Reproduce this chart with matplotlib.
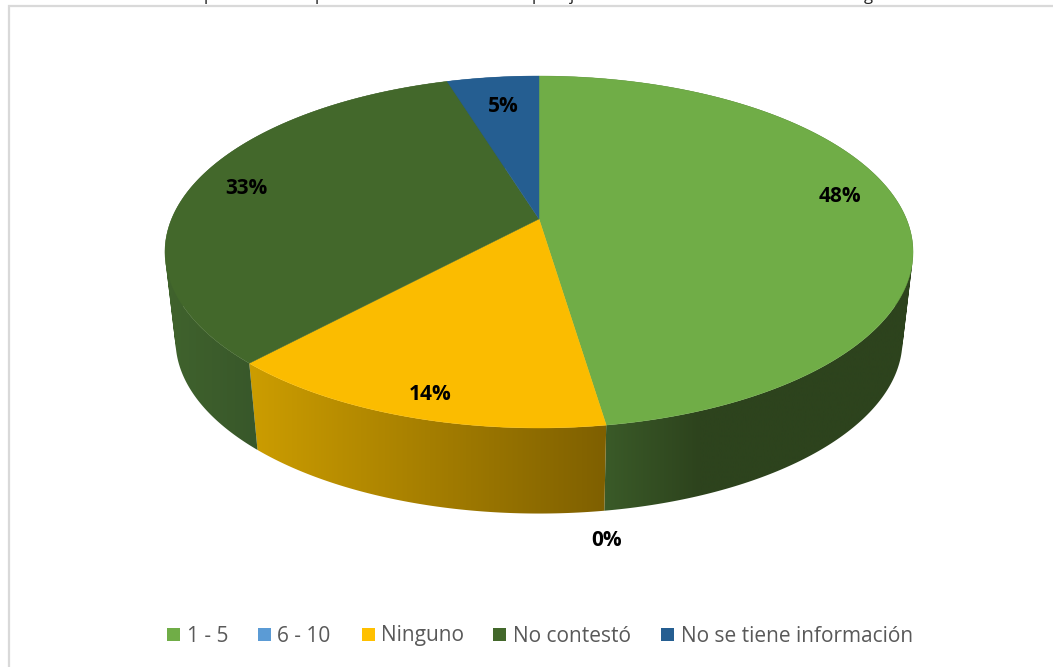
import numpy as np
import matplotlib
matplotlib.use('Agg')
import matplotlib.pyplot as plt
from matplotlib.colors import LinearSegmentedColormap
from matplotlib.patches import PathPatch, Rectangle
from matplotlib.path import Path

# datos
labels = ['1 - 5', '6 - 10', 'Ninguno', 'No contestó', 'No se tiene información']
values = [10, 0, 3, 7, 1]
pct_labels = ['48%', '0%', '14%', '33%', '5%']
colors = ['#70AD47', '#5B9BD5', '#FBBC00', '#43682B', '#255E91']

# colores del lateral: (x, color) de izquierda a derecha
side_stops = [
    ([606, 700], ['#3A5A28', '#2D431D']),
    ([600, 610], ['#3A6AA0', '#3A6AA0']),
    ([250, 606], ['#CC9D00', '#7F6000']),
    ([165, 258], ['#40632D', '#38572A']),
    ([450, 540], ['#1D4A73', '#1D4A73']),
]

# titulo cortado: solo se ven los trazos bajo la linea base
title_bits = ['p', 'p', 'p', 'j', 'g']
title_x = [204, 315, 532, 570, 864]
pct_x = [840, 607, 430, 246, 503]
pct_y = [197, 541, 394, 189, 106]
legend_box_x = [167, 258, 362, 493, 661]
legend_text_x = [187, 277, 381, 513, 681]

# geometria del pastel 3D (perspectiva)
CX, CY = 539, 219
CY2 = 308
A, H = 367.4, 169.8
A2, H2 = 357, 167
K = 0.1875


def top_xy(t):
    X, Y = np.sin(t), np.cos(t)
    d = 1 + K * Y
    return CX + A * X / d, CY - H * Y / d


def bottom_xy(t):
    X, Y = np.sin(t), np.cos(t)
    d = 1 + K * Y
    return CX + A2 * X / d, CY2 - H2 * Y / d


def strip_path(t0, t1, n=240):
    # tira de cuadrilateros con la misma orientacion, para que se sumen al recortar
    ts = np.linspace(t0, t1, n)
    x1, y1 = top_xy(ts)
    x2, y2 = bottom_xy(ts)
    verts, codes = [], []
    for j in range(n - 1):
        q = np.array([(x1[j], y1[j]), (x1[j + 1], y1[j + 1]), (x2[j + 1], y2[j + 1]), (x2[j], y2[j])])
        area = np.sum(q[:, 0] * np.roll(q[:, 1], -1) - np.roll(q[:, 0], -1) * q[:, 1])
        if area < 0:
            q = q[::-1]
        verts.extend(q.tolist() + [q[0].tolist()])
        codes.extend([Path.MOVETO, Path.LINETO, Path.LINETO, Path.LINETO, Path.CLOSEPOLY])
    return Path(verts, codes)


plt.rcParams['font.family'] = ['Open Sans', 'DejaVu Sans']

fig = plt.figure(figsize=(10.53, 6.67), dpi=100)
ax = fig.add_axes([0, 0, 1, 1])

# marco
ax.plot([9, 9, 1053], [667, 5.5, 5.5], color='#D9D9D9', lw=1.6, solid_joinstyle='miter')

edges = np.cumsum([0] + values) / sum(values) * 2 * np.pi

# laterales: degradado horizontal recortado con la forma de cada trozo
for i in range(len(values)):
    if values[i] == 0:
        continue
    path = strip_path(edges[i], edges[i + 1])
    px, py = path.vertices[:, 0], path.vertices[:, 1]
    sx, sc = side_stops[i]
    cmap = LinearSegmentedColormap.from_list('side%d' % i, sc)
    left, right = px.min() - 2, px.max() + 2
    xs = np.linspace(left, right, 400)
    grad = np.clip((xs - sx[0]) / (sx[1] - sx[0]), 0, 1)[None, :]
    im = ax.imshow(grad, cmap=cmap, vmin=0, vmax=1, aspect='auto', interpolation='bilinear',
                   extent=[left, right, py.max() + 2, py.min() - 2], zorder=1)
    shape = PathPatch(path, transform=ax.transData, fc='none', ec='none')
    ax.add_patch(shape)
    im.set_clip_path(shape)

# cara superior
for i in range(len(values)):
    if values[i] == 0:
        continue
    ts = np.linspace(edges[i], edges[i + 1], 200)
    x, y = top_xy(ts)
    ax.fill(np.r_[CX, x], np.r_[CY, y], color=colors[i], lw=0.3, zorder=2)

# etiquetas de datos
for s, x, y in zip(pct_labels, pct_x, pct_y):
    ax.text(x, y, s, ha='center', va='center', fontsize=15, fontweight='bold', color='black', zorder=3)

# leyenda
for i in range(len(labels)):
    ax.add_patch(Rectangle((legend_box_x[i], 628), 13, 13, color=colors[i] if i != 2 else '#FFC000', lw=0))
    ax.text(legend_text_x[i], 636, labels[i], ha='left', va='center', fontsize=15, color='#595959')

# titulo cortado por el borde superior
for s, x in zip(title_bits, title_x):
    ax.text(x, -0.5, s, ha='left', va='baseline', fontsize=12, color='#222222', clip_on=False)

ax.set_xlim(0, 1053)
ax.set_ylim(667, 0)
ax.axis('off')

fig.savefig('out.png', dpi=100)
